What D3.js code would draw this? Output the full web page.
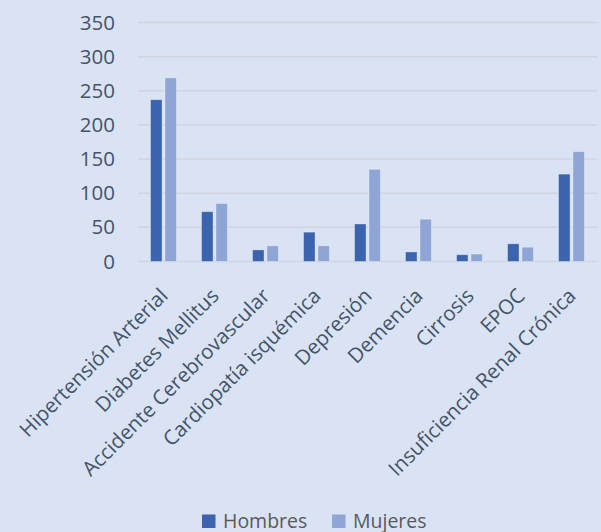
<!DOCTYPE html>
<html>
<head>
<meta charset="utf-8">
<script src="https://cdn.jsdelivr.net/npm/d3@7"></script>
<style>
  body { margin: 0; background: #dae3f3; }
  svg { display: block; font-family: "Open Sans", sans-serif; }
</style>
</head>
<body>
<svg></svg>
<script>
const width = 601;
const height = 532;

const categories = ["Hipertensión Arterial", "Diabetes Mellitus", "Accidente Cerebrovascular",
  "Cardiopatía isquémica", "Depresión", "Demencia", "Cirrosis", "EPOC", "Insuficiencia Renal Crónica"];
const series = ["Hombres", "Mujeres"];
const hombres = [237, 73, 17, 43, 55, 14, 10, 26, 128];
const mujeres = [269, 85, 23, 23, 135, 62, 11, 21, 161];
const yTicks = [0, 50, 100, 150, 200, 250, 300, 350];
const colors = ["#3c63ae", "#8fa5d6"];

const svg = d3.select('svg').attr('width', width).attr('height', height);

svg.append('rect').attr('width', width).attr('height', height).attr('fill', '#dae3f3');

const x = d3.scaleBand().domain(categories).range([138, 597]);
const xs = d3.scaleBand().domain(series).range([-13, 13]).paddingInner(0.2);
const y = d3.scaleLinear().domain([0, 350]).range([261.5, 22.5]);

// gridlines
svg.append('g')
  .selectAll('line')
  .data(yTicks)
  .enter().append('line')
  .attr('x1', 138).attr('x2', 597)
  .attr('y1', d => y(d)).attr('y2', d => y(d))
  .attr('stroke', '#d0d5dd')
  .attr('stroke-width', 1.5);

// y axis labels
const yAxis = svg.append('g')
  .attr('transform', 'translate(115,0)')
  .call(d3.axisLeft(y).tickValues(yTicks).tickSize(0).tickPadding(0));
yAxis.select('.domain').remove();
yAxis.selectAll('text')
  .attr('fill', '#44546a')
  .style('font-size', '20.5px')
  .style('font-family', '"Open Sans", sans-serif');

const rows = categories.map((c, i) => ({cat: c, values: [hombres[i], mujeres[i]]}));

const groups = svg.append('g')
  .selectAll('g')
  .data(rows)
  .enter().append('g')
  .attr('transform', d => `translate(${x(d.cat) + x.bandwidth() / 2},0)`);

groups.selectAll('rect')
  .data(d => d.values.map((v, j) => ({s: series[j], v: v, j: j})))
  .enter().append('rect')
  .attr('x', d => xs(d.s))
  .attr('width', xs.bandwidth())
  .attr('y', d => y(d.v))
  .attr('height', d => y(0) - y(d.v))
  .attr('fill', d => colors[d.j])
  .attr('stroke', 'rgba(255,255,255,0.35)')
  .attr('stroke-width', 1);

// category labels
svg.append('g')
  .selectAll('text')
  .data(categories)
  .enter().append('text')
  .attr('transform', d => `translate(${x(d) + x.bandwidth() / 2 + 0.5},292) rotate(-45)`)
  .attr('text-anchor', 'end')
  .attr('dy', '0.35em')
  .attr('fill', '#44546a')
  .style('font-size', '20.5px')
  .text(d => d);

// legend
const legend = svg.append('g').attr('transform', 'translate(202,514.5)');
const legendX = [0, 130];
series.forEach((s, i) => {
  const g = legend.append('g').attr('transform', `translate(${legendX[i]},0)`);
  g.append('rect').attr('width', 13.5).attr('height', 13.5).attr('fill', colors[i]);
  g.append('text').attr('x', 21).attr('y', 13.7)
    .attr('fill', '#595959')
    .style('font-size', '19.5px')
    .text(s);
});
</script>
</body>
</html>
